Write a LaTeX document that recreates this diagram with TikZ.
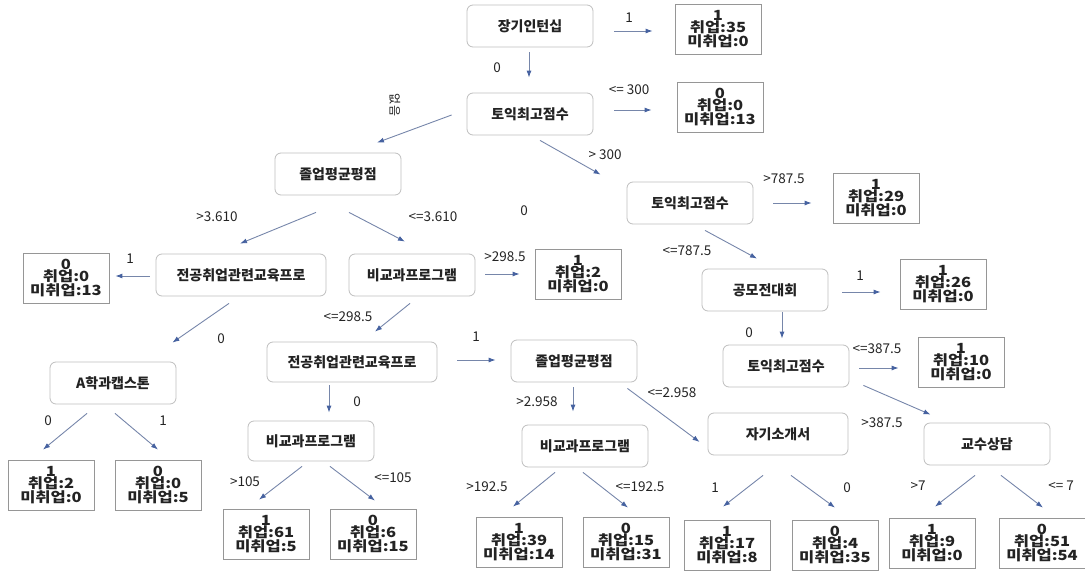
\documentclass[tikz,border=0pt]{standalone}
\usepackage{fontspec}
\setmainfont{Noto Sans CJK KR}
\newfontfamily\leaffont[FakeStretch=1.18]{Noto Sans CJK KR}
\usetikzlibrary{arrows.meta}

\definecolor{edgeblue}{RGB}{118,134,170}
\definecolor{tipblue}{RGB}{70,98,160}
\definecolor{boxgray}{RGB}{190,190,190}
\definecolor{leafgray}{RGB}{150,150,150}
\definecolor{inkgray}{RGB}{35,35,35}

\tikzstyle{test} = [
        draw=boxgray, fill=white, rounded corners=6pt, line width=0.8pt,
        minimum width=126pt, minimum height=42pt, text=inkgray,
        font=\fontsize{14}{15}\selectfont\bfseries
    ]
\tikzstyle{leaf} = [
        draw=leafgray, fill=white, rectangle, line width=0.8pt, align=center,
        minimum width=86pt, minimum height=50pt, inner sep=1pt, text=inkgray,
        font=\leaffont\fontsize{14}{12.5}\selectfont\bfseries
    ]
\tikzstyle{arr} = [-{Latex[length=7pt,width=5pt,color=tipblue]}, draw=edgeblue, line width=0.9pt]
\tikzstyle{lbl} = [font=\fontsize{13.5}{13.5}\selectfont, text=inkgray, inner sep=0pt]

\begin{document}
\begin{tikzpicture}[x=1pt, y=-1pt]
        \useasboundingbox (0,0) rectangle (1085,573);
        % tests
        \node [test] (intern) at (530,26) {장기인턴십};
        \node [test] (toeicA) at (530,114) {토익최고점수};
        \node [test] (gpaA) at (338,174) {졸업평균평점};
        \node [test] (toeicB) at (690,203) {토익최고점수};
        \node [test, minimum width=170pt] (majorA) at (241,275) {전공취업관련교육프로};
        \node [test] (extraA) at (412,275) {비교과프로그램};
        \node [test] (contest) at (765,290) {공모전대회};
        \node [test, minimum width=170pt, minimum height=40pt] (majorB) at (352,362) {전공취업관련교육프로};
        \node [test] (gpaB) at (574,361) {졸업평균평점};
        \node [test] (toeicC) at (786,366) {토익최고점수};
        \node [test] (capstone) at (113,383) {A학과캡스톤};
        \node [test, minimum height=40pt] (extraB) at (311,441) {비교과프로그램};
        \node [test] (extraC) at (585,446) {비교과프로그램};
        \node [test, minimum width=140pt] (intro) at (778,434) {자기소개서};
        \node [test] (advice) at (987,444) {교수상담};
        % leaves
        \node [leaf] (l1) at (718,29) {1\\취업:35\\미취업:0};
        \node [leaf] (l2) at (720,107) {0\\취업:0\\미취업:13};
        \node [leaf] (l3) at (876,198) {1\\취업:29\\미취업:0};
        \node [leaf] (l4) at (943,284) {1\\취업:26\\미취업:0};
        \node [leaf] (l5) at (961,362) {1\\취업:10\\미취업:0};
        \node [leaf] (l6) at (66,278) {0\\취업:0\\미취업:13};
        \node [leaf] (l7) at (578,274) {1\\취업:2\\미취업:0};
        \node [leaf] (l8) at (51,485) {1\\취업:2\\미취업:0};
        \node [leaf] (l9) at (158,485) {0\\취업:0\\미취업:5};
        \node [leaf] (l10) at (266,534) {1\\취업:61\\미취업:5};
        \node [leaf] (l11) at (373,534) {0\\취업:6\\미취업:15};
        \node [leaf] (l12) at (519,542) {1\\취업:39\\미취업:14};
        \node [leaf] (l13) at (626,542) {0\\취업:15\\미취업:31};
        \node [leaf] (l14) at (727,545) {1\\취업:17\\미취업:8};
        \node [leaf] (l15) at (835,545) {0\\취업:4\\미취업:35};
        \node [leaf] (l16) at (932,543) {1\\취업:9\\미취업:0};
        \node [leaf] (l17) at (1042,543) {0\\취업:51\\미취업:54};
        % edges
        \draw [arr] ([shift={(21,5)}]intern.east) -- ([shift={(-22,2)}]l1.west);
        \node [lbl] (e1) at (629,18) {1};
        \draw [arr] ([shift={(-1,5)}]intern.south) -- ([shift={(-1,-15)}]toeicA.north);
        \node [lbl] (e2) at (497,68) {0};
        \draw [arr] ([shift={(21,-4)}]toeicA.east) -- ([shift={(-25,3)}]l2.west);
        \node [lbl] (e3) at (629,90) {<= 300};
        \draw [arr] ([shift={(-15,1)}]toeicA.west) -- ([shift={(39,-10)}]gpaA.north);
        \node [lbl, rotate=-90, font=\fontsize{12}{12}\selectfont] (e4) at (395,105) {없음};
        \draw [arr] ([shift={(10,5)}]toeicA.south) -- ([shift={(-26,-7)}]toeicB.north west);
        \node [lbl] (e5) at (605,155) {> 300};
        \draw [arr] ([shift={(20,0)}]toeicB.east) -- ([shift={(-21,5)}]l3.west);
        \node [lbl] (e6) at (784,179) {>787.5};
        \draw [arr] ([shift={(15,6)}]toeicB.south) -- ([shift={(-8,-10)}]contest.north);
        \node [lbl] (e7) at (687,251) {<=787.5};
        \draw [arr] ([shift={(14,2)}]contest.east) -- ([shift={(-19,8)}]l4.west);
        \node [lbl] (e8) at (860,276) {1};
        \draw [arr] ([shift={(17,1)}]contest.south) -- ([shift={(-4,-6)}]toeicC.north);
        \node [lbl] (e9) at (749,333) {0};
        \draw [arr] ([shift={(10,2)}]toeicC.east) -- ([shift={(-19,6)}]l5.west);
        \node [lbl] (e10) at (877,349) {<=387.5};
        \draw [arr] ([shift={(14,-2)}]toeicC.south east) -- ([shift={(7,-8)}]advice.north west);
        \node [lbl] (e11) at (882,423) {>387.5};
        \draw [arr] ([shift={(-22,17)}]gpaA.south) -- ([shift={(-1,-10)}]majorA.north);
        \node [lbl] (e12) at (217,217) {>3.610};
        \draw [arr] ([shift={(11,17)}]gpaA.south) -- ([shift={(-7,-12)}]extraA.north);
        \node [lbl] (e13) at (433,217) {<=3.610};
        \draw [arr] ([shift={(10,-1)}]extraA.east) -- ([shift={(-15,0)}]l7.west);
        \node [lbl] (e14) at (505,257) {>298.5};
        \draw [arr] ([shift={(-6,1)}]majorA.west) -- ([shift={(6,-2)}]l6.east);
        \node [lbl] (e15) at (130,259) {1};
        \draw [arr] ([shift={(-12,7)}]majorA.south) -- ([shift={(-4,-19)}]capstone.north east);
        \node [lbl] (e16) at (221,339) {0};
        \draw [arr] ([shift={(-2,7)}]extraA.south) -- ([shift={(23,-10)}]majorB.north);
        \node [lbl] (e17) at (348,317) {<=298.5};
        \draw [arr] ([shift={(20,-2)}]majorB.east) -- ([shift={(-15,-1)}]gpaB.west);
        \node [lbl] (e18) at (476,337) {1};
        \draw [arr] ([shift={(-23,3)}]majorB.south) -- ([shift={(18,-8)}]extraB.north);
        \node [lbl] (e19) at (357,402) {0};
        \draw [arr] ([shift={(-26,9)}]capstone.south) -- ([shift={(-8,-10)}]l8.north);
        \node [lbl] (e20) at (48,421) {0};
        \draw [arr] ([shift={(2,9)}]capstone.south) -- ([shift={(0,-10)}]l9.north);
        \node [lbl] (e21) at (163,421) {1};
        \draw [arr] ([shift={(-9,5)}]extraB.south) -- ([shift={(-7,-9)}]l10.north);
        \node [lbl] (e22) at (245,482) {>105};
        \draw [arr] ([shift={(19,5)}]extraB.south) -- ([shift={(2,-8)}]l11.north);
        \node [lbl] (e23) at (393,478) {<=105};
        \draw [arr] ([shift={(-1,5)}]gpaB.south) -- ([shift={(-12,-13)}]extraC.north);
        \node [lbl] (e24) at (537,402) {>2.958};
        \draw [arr] ([shift={(-10,6)}]gpaB.south east) -- ([shift={(-8,8)}]intro.west);
        \node [lbl] (e25) at (672,393) {<=2.958};
        \draw [arr] ([shift={(-30,5)}]extraC.south) -- ([shift={(-6,-10)}]l12.north);
        \node [lbl] (e26) at (487,487) {>192.5};
        \draw [arr] ([shift={(-2,5)}]extraC.south) -- ([shift={(2,-9)}]l13.north);
        \node [lbl] (e27) at (640,487) {<=192.5};
        \draw [arr] ([shift={(-15,20)}]intro.south) -- ([shift={(-4,-13)}]l14.north);
        \node [lbl] (e28) at (715,488) {1};
        \draw [arr] ([shift={(13,20)}]intro.south) -- ([shift={(0,-12)}]l15.north);
        \node [lbl] (e29) at (847,488) {0};
        \draw [arr] ([shift={(-12,10)}]advice.south) -- ([shift={(3,-11)}]l16.north);
        \node [lbl] (e30) at (918,486) {>7};
        \draw [arr] ([shift={(14,10)}]advice.south) -- ([shift={(1,-10)}]l17.north);
        \node [lbl] (e31) at (1061,486) {<= 7};
        \node [lbl] (stray) at (524,211) {0};
    \end{tikzpicture}
\end{document}
